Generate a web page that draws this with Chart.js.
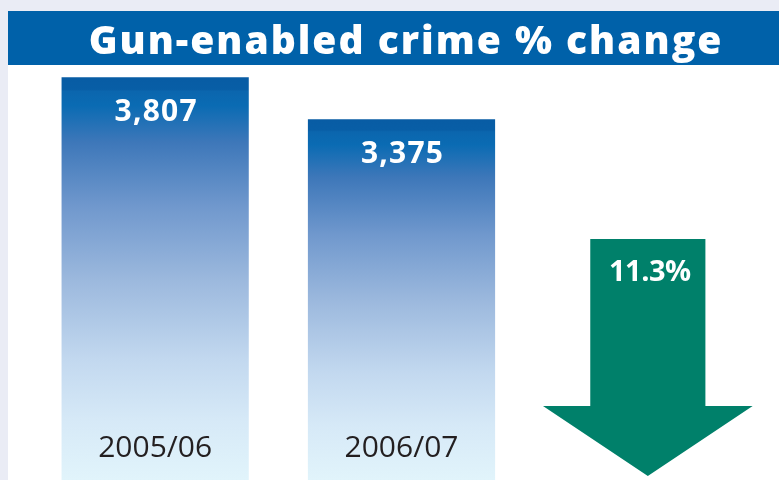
<!DOCTYPE html>
<html>
<head>
<meta charset="utf-8">
<script src="https://cdn.jsdelivr.net/npm/chart.js@4.4.1/dist/chart.umd.min.js"></script>
<style>
  html, body { margin: 0; padding: 0; background: #eaecf5; overflow: hidden; }
  #wrap { position: absolute; left: 8px; top: 11px; width: 771px; height: 469px; background: #fff; }
</style>
</head>
<body>
<div id="wrap"><canvas id="chart"></canvas></div>
<script>
const titleText = "Gun-enabled crime % change";
const years = ["2005/06", "2006/07"];
const crimes = [3807, 3375];
const axisMin = -340;
const axisMax = 3810;

const FONT = "'Open Sans', sans-serif";
const pctChange = (((crimes[0] - crimes[1]) / crimes[0]) * 100).toFixed(1) + "%";

// blue bars fade from dark at the top to pale at the bottom
function barFill(ctx) {
  const chart = ctx.chart;
  const area = chart.chartArea;
  if (!area) return "#0a62aa";
  const y = chart.scales.y;
  const top = y.getPixelForValue(crimes[ctx.dataIndex] ?? axisMax);
  const g = chart.ctx.createLinearGradient(0, top, 0, area.bottom);
  g.addColorStop(0, "#085ca4");
  g.addColorStop(0.03, "#085ea6");
  g.addColorStop(0.035, "#0b66ae");
  g.addColorStop(0.07, "#0a6bb3");
  g.addColorStop(0.16, "#3d77b9");
  g.addColorStop(0.32, "#7098cd");
  g.addColorStop(0.5, "#9bb8dd");
  g.addColorStop(0.7, "#c2d8ef");
  g.addColorStop(0.85, "#d6e9f7");
  g.addColorStop(1, "#e1f4fb");
  return g;
}

// blue heading strip across the top
const titleBand = {
  id: "titleBand",
  beforeDraw(chart) {
    const c = chart.ctx;
    c.save();
    c.fillStyle = "#0061a9";
    c.fillRect(0, 0, chart.width, 54);
    c.fillStyle = "#ffffff";
    c.font = "800 39px " + FONT;
    c.letterSpacing = "2px";
    c.textAlign = "center";
    c.textBaseline = "alphabetic";
    c.fillText(titleText, 398, 43);
    c.restore();
  }
};

const barText = {
  id: "barText",
  afterDatasetsDraw(chart) {
    const c = chart.ctx;
    const meta = chart.getDatasetMeta(0);
    const area = chart.chartArea;
    c.save();
    c.textAlign = "center";
    c.textBaseline = "middle";
    meta.data.forEach((bar, i) => {
      c.fillStyle = "#ffffff";
      c.font = "bold 30px " + FONT;
      c.letterSpacing = "1.2px";
      c.fillText(crimes[i].toLocaleString("en-GB"), bar.x + 1, bar.y + 35);
      c.fillStyle = "#231f20";
      c.font = "30px " + FONT;
      c.letterSpacing = "0px";
      c.fillText(years[i], bar.x, area.bottom - 32);
    });

    // down arrow in the third slot
    const x = chart.scales.x.getPixelForValue(2);
    const w = meta.data[0].width;
    const shaft = w * 0.615;
    const head = w * 1.12;
    const top = 228;
    const neck = 395;
    const tip = 465;
    c.fillStyle = "#00806a";
    c.beginPath();
    c.moveTo(x - shaft / 2, top);
    c.lineTo(x + shaft / 2, top);
    c.lineTo(x + shaft / 2, neck);
    c.lineTo(x + head / 2, neck);
    c.lineTo(x, tip);
    c.lineTo(x - head / 2, neck);
    c.lineTo(x - shaft / 2, neck);
    c.closePath();
    c.fill();
    c.fillStyle = "#ffffff";
    c.font = "bold 29px " + FONT;
    c.letterSpacing = "-0.5px";
    c.fillText(pctChange, x + 2, top + 34);
    c.restore();
  }
};

new Chart(document.getElementById("chart"), {
  type: "bar",
  data: {
    labels: [...years, "change"],
    datasets: [
      {
        data: crimes,
        base: axisMin,
        backgroundColor: barFill,
        barPercentage: 0.76,
        categoryPercentage: 1
      }
    ]
  },
  options: {
    responsive: true,
    maintainAspectRatio: false,
    animation: false,
    layout: { padding: { left: 24, right: 8, top: 66, bottom: 0 } },
    scales: {
      x: { display: false },
      y: { display: false, min: axisMin, max: axisMax }
    },
    plugins: {
      legend: { display: false },
      tooltip: { enabled: false },
      title: { display: false }
    }
  },
  plugins: [titleBand, barText]
});
</script>
</body>
</html>
